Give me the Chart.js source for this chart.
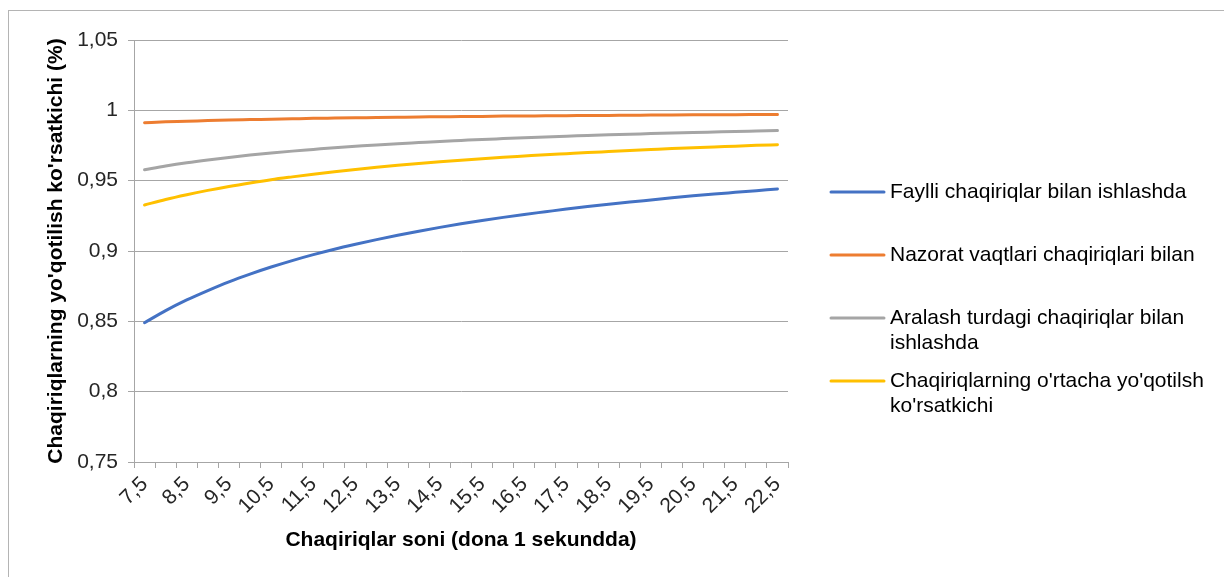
<!DOCTYPE html>
<html>
<head>
<meta charset="utf-8">
<script src="https://cdn.jsdelivr.net/npm/chart.js@4.4.0/dist/chart.umd.min.js"></script>
<style>
  html, body { margin: 0; padding: 0; background: #ffffff; }
  #wrap { width: 1224px; height: 577px; position: relative; }
  canvas { display: block; }
</style>
</head>
<body>
<div id="wrap"><canvas id="chart" width="1224" height="577"></canvas></div>
<script>
// Calls per second (x categories)
const callsPerSecond = [7.5, 8, 8.5, 9, 9.5, 10, 10.5, 11, 11.5, 12, 12.5, 13, 13.5, 14, 14.5, 15,
  15.5, 16, 16.5, 17, 17.5, 18, 18.5, 19, 19.5, 20, 20.5, 21, 21.5, 22, 22.5];

// Faylli chaqiriqlar bilan ishlashda
const fileCalls = [0.8490, 0.8576, 0.8652, 0.8719, 0.8781, 0.8836, 0.8886, 0.8932, 0.8974, 0.9013,
  0.9048, 0.9081, 0.9112, 0.9141, 0.9168, 0.9193, 0.9217, 0.9239, 0.9260, 0.9279, 0.9298, 0.9316,
  0.9332, 0.9348, 0.9363, 0.9378, 0.9392, 0.9405, 0.9417, 0.9429, 0.9441];

// Nazorat vaqtlari chaqiriqlari bilan
const controlCalls = [0.9912, 0.9918, 0.9922, 0.9927, 0.9931, 0.9934, 0.9937, 0.9940, 0.9943, 0.9945,
  0.9947, 0.9949, 0.9951, 0.9953, 0.9954, 0.9956, 0.9957, 0.9959, 0.9960, 0.9961, 0.9962, 0.9963,
  0.9964, 0.9965, 0.9966, 0.9967, 0.9968, 0.9969, 0.9969, 0.9970, 0.9971];

// Aralash turdagi chaqiriqlar bilan ishlashda
const mixedCalls = [0.9578, 0.9604, 0.9627, 0.9647, 0.9665, 0.9682, 0.9697, 0.9710, 0.9722, 0.9734,
  0.9744, 0.9754, 0.9763, 0.9771, 0.9779, 0.9786, 0.9793, 0.9799, 0.9805, 0.9811, 0.9816, 0.9821,
  0.9826, 0.9830, 0.9835, 0.9839, 0.9842, 0.9846, 0.9850, 0.9853, 0.9856];

// Chaqiriqlarning o'rtacha yo'qotilsh ko'rsatkichi
const averageCalls = [0.9327, 0.9366, 0.9400, 0.9431, 0.9459, 0.9484, 0.9507, 0.9527, 0.9546, 0.9564,
  0.9580, 0.9595, 0.9609, 0.9622, 0.9634, 0.9645, 0.9656, 0.9666, 0.9675, 0.9684, 0.9692, 0.9700,
  0.9707, 0.9714, 0.9721, 0.9728, 0.9734, 0.9740, 0.9745, 0.9751, 0.9756];

const seriesNames = [
  "Faylli chaqiriqlar bilan ishlashda",
  "Nazorat vaqtlari chaqiriqlari bilan",
  "Aralash turdagi chaqiriqlar bilan ishlashda",
  "Chaqiriqlarning o'rtacha yo'qotilsh ko'rsatkichi"
];

const xTickLabels = callsPerSecond.map(v => String(v).replace('.', ','));
const yAxisMin = 0.75, yAxisMax = 1.05, yAxisStep = 0.05;
const xTitle = "Chaqiriqlar soni (dona 1 sekundda)";
const yTitle = "Chaqiriqlarning yo'qotilish ko'rsatkichi (%)";

const colors = ['#4472C4', '#ED7D31', '#A5A5A5', '#FFC000'];
const gridColor = '#a6a6a6';
const textColor = '#262626';
const FONT = "'Liberation Sans', Arial, Helvetica, sans-serif";

Chart.defaults.font.family = FONT;
Chart.defaults.font.size = 21;
Chart.defaults.color = textColor;

// Outer frame of the chart object
const frame = {
  id: 'frame',
  beforeDraw(chart) {
    const ctx = chart.ctx;
    ctx.save();
    ctx.fillStyle = '#ffffff';
    ctx.fillRect(0, 0, chart.width, chart.height);
    ctx.strokeStyle = '#b4b4b4';
    ctx.lineWidth = 1;
    ctx.strokeRect(8.5, 10.5, chart.width + 20, chart.height + 20);
    ctx.restore();
  }
};

// Legend on the right, with wrapped entries
const sideLegend = {
  id: 'sideLegend',
  afterDraw(chart) {
    const ctx = chart.ctx;
    const area = chart.chartArea;
    const lineX0 = area.right + 43, lineX1 = lineX0 + 53, textX = lineX1 + 6;
    const firstY = 192, entryGap = 63, lineHeight = 25;
    const maxW = chart.width - textX - 2;
    ctx.save();
    ctx.font = '21px ' + FONT;
    ctx.textBaseline = 'middle';
    ctx.textAlign = 'left';
    chart.data.datasets.forEach((ds, i) => {
      const y = firstY + i * entryGap;
      ctx.strokeStyle = ds.borderColor;
      ctx.lineWidth = 3;
      ctx.lineCap = 'round';
      ctx.beginPath();
      ctx.moveTo(lineX0, y);
      ctx.lineTo(lineX1, y);
      ctx.stroke();
      const words = ds.label.split(' ');
      const lines = [];
      let cur = '';
      words.forEach(w => {
        const test = cur ? cur + ' ' + w : w;
        if (ctx.measureText(test).width > maxW && cur) { lines.push(cur); cur = w; }
        else cur = test;
      });
      if (cur) lines.push(cur);
      ctx.fillStyle = '#000000';
      lines.forEach((ln, k) => ctx.fillText(ln, textX, y + k * lineHeight));
    });
    ctx.restore();
  }
};

const seriesValues = [fileCalls, controlCalls, mixedCalls, averageCalls];

new Chart(document.getElementById('chart'), {
  type: 'line',
  data: {
    labels: xTickLabels,
    datasets: seriesValues.map((vals, i) => ({
      label: seriesNames[i],
      data: vals,
      borderColor: colors[i],
      backgroundColor: colors[i],
      borderWidth: 3,
      pointRadius: 0,
      cubicInterpolationMode: 'monotone',
      borderCapStyle: 'round',
      fill: false
    }))
  },
  options: {
    responsive: false,
    animation: false,
    devicePixelRatio: 1,
    layout: { padding: { top: 40, right: 436, left: 0, bottom: 0 } },
    plugins: { legend: { display: false }, tooltip: { enabled: false } },
    scales: {
      x: {
        type: 'category',
        offset: true,
        grid: { offset: true, drawOnChartArea: false, drawTicks: true, tickLength: 6, color: gridColor },
        border: { color: gridColor },
        ticks: {
          autoSkip: false, minRotation: 45, maxRotation: 45, padding: 4,
          color: textColor, font: { size: 21 },
          callback: (v, i) => (i % 2 === 0 ? xTickLabels[i] : '')
        },
        title: {
          display: true, text: xTitle, color: '#000000',
          font: { size: 21, weight: 'bold' }, padding: { top: 0, bottom: 24 }
        },
        afterFit: s => { s.height = 115; }
      },
      y: {
        min: yAxisMin, max: yAxisMax,
        grid: { color: gridColor, tickLength: 6 },
        border: { color: gridColor },
        ticks: {
          stepSize: yAxisStep, padding: 10, color: textColor, font: { size: 21 },
          callback: v => String(+Number(v).toFixed(2)).replace('.', ',')
        },
        title: {
          display: true, text: yTitle, color: '#000000',
          font: { size: 21, weight: 'bold' }, padding: { top: 44, bottom: 0 }
        },
        afterFit: s => { s.width = 134; }
      }
    }
  },
  plugins: [frame, sideLegend]
});
</script>
</body>
</html>
